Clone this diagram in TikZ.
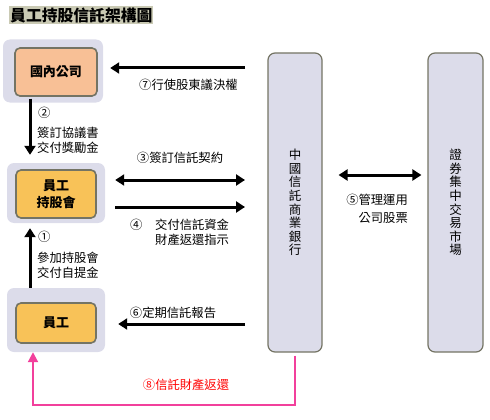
\documentclass[tikz,border=0pt]{standalone}
\usepackage{fontspec}
\newfontfamily\cjk{Noto Sans CJK TC}
\usetikzlibrary{arrows.meta}

\definecolor{framelav}{HTML}{DCDCEA}
\definecolor{boxorange}{HTML}{F8C258}
\definecolor{boxpeach}{HTML}{F8C096}
\definecolor{edgegray}{HTML}{747464}
\definecolor{titlebg}{HTML}{CACAB4}
\definecolor{pinkline}{HTML}{F2409C}

\tikzset{
  frame/.style={fill=framelav, rounded corners=7pt, minimum width=98pt, minimum height=62pt},
  party/.style={draw=edgegray, line width=1.6pt, fill=boxorange, rounded corners=5pt,
    minimum width=80pt, minimum height=46pt, align=center,
    font=\cjk\bfseries\fontsize{13}{20}\selectfont},
  pillar/.style={draw=edgegray, line width=1.2pt, fill=framelav, rounded corners=7pt,
    minimum width=54pt, minimum height=299pt, align=center,
    font=\cjk\fontsize{12.5}{13.6}\selectfont},
  flow/.style={line width=3pt, -{Triangle[length=9pt,width=11pt]}},
  note/.style={font=\cjk\fontsize{12.3}{15}\selectfont, inner sep=0pt},
}

\begin{document}
\begin{tikzpicture}[x=1pt,y=-1pt]
\useasboundingbox (0,0) rectangle (490,420);

% title
\node[fill=titlebg, inner sep=1pt, anchor=west, font=\cjk\bfseries\fontsize{15.8}{18}\selectfont]
  (title) at (9,15) {員工持股信託架構圖};

% parties
\node[frame, minimum width=100pt, minimum height=63pt] (compframe) at (53,71) {};
\node[party, fill=boxpeach, minimum width=82pt, minimum height=48pt] (comp) at (56,72) {國內公司};

\node[frame, minimum height=60pt] (unionframe) at (56,193) {};
\node[party, minimum height=48pt] (union) at (56,194) {員工\\[-3pt]持股會};

\node[frame, minimum height=64pt] (staffframe) at (56,320) {};
\node[party, minimum height=40pt] (staff) at (56,323) {員工};

\node[pillar] (bank) at (295,202.5) {中\\國\\信\\託\\商\\業\\銀\\行};
\node[pillar, minimum width=55pt] (market) at (455.5,202.5) {證\\券\\集\\中\\交\\易\\市\\場};

% free ends
\coordinate (v2) at (30,0);
\coordinate (a7) at (245,68);
\coordinate (a3) at (245,180);
\coordinate (a4) at (245,207);
\coordinate (a6) at (245,324);
\coordinate (a5) at (330,175);
\coordinate (v8) at (33,405);

% arrows
\draw[flow, shorten >=7pt] (a7) -- (a7 -| compframe.east);
\draw[flow, shorten <=-4pt, shorten >=8pt] (compframe.south -| v2) -- (unionframe.north -| v2);
\draw[flow, shorten >=5pt] (staffframe.north -| v2) -- (unionframe.south -| v2);
\draw[flow, {Triangle[length=9pt,width=11pt]}-{Triangle[length=9pt,width=11pt]}, shorten >=10pt]
  (a3) -- (a3 -| unionframe.east);
\draw[flow, shorten <=10pt] (unionframe.east |- a4) -- (a4);
\draw[flow, shorten >=13pt] (a6) -- (a6 -| staffframe.east);
\draw[flow, {Triangle[length=9pt,width=11pt]}-{Triangle[length=9pt,width=11pt]},
  shorten <=16pt, shorten >=6pt] (bank.east |- a5) -- (market.west |- a5);
\draw[pinkline, line width=2pt, -{Triangle[length=10pt,width=10pt]}, shorten <=3pt]
  (bank.south) |- (v8) -- (v8 |- staffframe.south);

% labels
\node[note, anchor=west] (l7) at (139,85) {⑦行使股東議決權};
\node[note, anchor=west] (l2) at (38,113) {②};
\node[note, anchor=west, align=left] (l2t) at (37,140.5) {簽訂協議書\\交付獎勵金};
\node[note] (l3) at (180,158) {③簽訂信託契約};
\node[note, anchor=west] (l4) at (130,225) {④};
\node[note, anchor=west, align=left] (l4t) at (155,232.5) {交付信託資金\\財產返還指示};
\node[note, anchor=west] (l1) at (38,237) {①};
\node[note, anchor=west, align=left] (l1t) at (37,265) {參加持股會\\交付自提金};
\node[note] (l6) at (173,313) {⑥定期信託報告};
\node[note, red] (l8) at (186,385) {⑧信託財產返還};
\node[note, anchor=east, align=right, font=\cjk\fontsize{12.3}{18}\selectfont] (l5) at (408,209) {⑤管理運用\\公司股票};
\end{tikzpicture}
\end{document}
